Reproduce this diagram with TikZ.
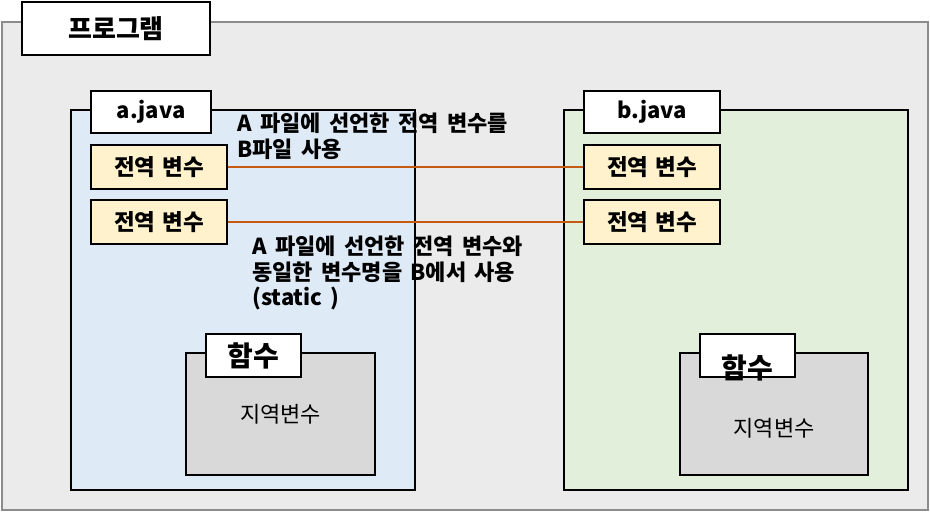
\documentclass[tikz,border=0pt]{standalone}
\usepackage{fontspec}
\setmainfont{Noto Sans CJK KR}
\usepackage{tikz}
\usetikzlibrary{positioning}
\definecolor{progfill}{HTML}{EBEBEB}
\definecolor{progline}{HTML}{8C8C8C}
\definecolor{afill}{HTML}{DEEBF7}
\definecolor{bfill}{HTML}{E2EFDA}
\definecolor{varfill}{HTML}{FFF2CC}
\definecolor{funcfill}{HTML}{D9D9D9}
\definecolor{linkcol}{HTML}{C55A11}
\newcommand{\widespace}[1]{\spaceskip=#1em\relax}
\tikzset{
  progbox/.style={draw=progline, line width=1.6pt, fill=progfill, minimum width=926pt, minimum height=488pt, inner sep=0pt},
  titlebox/.style={draw=black, line width=1.6pt, fill=white, align=center, inner sep=0pt, font=\bfseries\fontsize{22}{26}\selectfont},
  filebox/.style={draw=black, line width=1.6pt, minimum width=344pt, minimum height=380pt, inner sep=0pt},
  varbox/.style={draw=black, line width=1.6pt, fill=varfill, minimum width=136pt, minimum height=44pt, inner sep=0pt, align=center, font={\bfseries\fontsize{22.5}{26}\selectfont\widespace{0.3}}},
  funcbox/.style={draw=black, line width=1.6pt, fill=funcfill, minimum width=189pt, minimum height=122pt, inner sep=0pt, font=\fontsize{22}{26}\selectfont},
  notetext/.style={anchor=north west, align=left, inner sep=0pt, font={\bfseries\fontsize{22}{25.5}\selectfont\widespace{0.38}}},
  link/.style={draw=linkcol, line width=1.2pt}
}
\begin{document}
\begin{tikzpicture}[x=1pt, y=-1pt]
  \useasboundingbox (0,0) rectangle (930,513);
  \node[progbox] (prog) at (465,266) {};
  \node[titlebox, minimum width=188pt, minimum height=53pt, font=\bfseries\fontsize{26}{30}\selectfont] (progtitle) at (116,28.5) {프로그램};
  % two source files
  \node[filebox, fill=afill] (filea) at (243,300) {};
  \node[filebox, fill=bfill] (fileb) at (736,300) {};
  \node[titlebox, minimum width=120pt, minimum height=42pt] (titlea) at (151,112) {a.java};
  \node[titlebox, minimum width=136pt, minimum height=42pt] (titleb) at (652,112) {b.java};
  \node[varbox] (ga1) at (159,167) {전역 변수};
  \node[varbox] (ga2) at (159,222) {전역 변수};
  \node[varbox] (gb1) at (652,167) {전역 변수};
  \node[varbox] (gb2) at (652,222) {전역 변수};
  % functions
  \node[funcbox] (funca) at (280.5,414) {지역변수};
  \node[funcbox, minimum width=188pt] (funcb) at (774,414) {\raisebox{-13pt}[\height][0pt]{지역변수}};
  \node[titlebox, minimum width=95pt, minimum height=43pt, font=\bfseries\fontsize{28}{32}\selectfont] (functitlea) at (253.5,355.5) {함수};
  \node[titlebox, minimum width=95pt, minimum height=43pt, font=\bfseries\fontsize{28}{32}\selectfont] (functitleb) at (747.5,355.5) {\raisebox{-11pt}[\height][0pt]{함수}};
  % notes
  \node[notetext] (note1) at (237,113) {A 파일에 선언한 전역 변수를\\B파일 사용};
  \node[notetext] (note2) at (252,236) {A 파일에 선언한 전역 변수와\\동일한 변수명을 B에서 사용\\(static )};
  \draw[link] (ga1.east) -- (gb1.west);
  \draw[link] (ga2.east) -- (gb2.west);
\end{tikzpicture}
\end{document}
